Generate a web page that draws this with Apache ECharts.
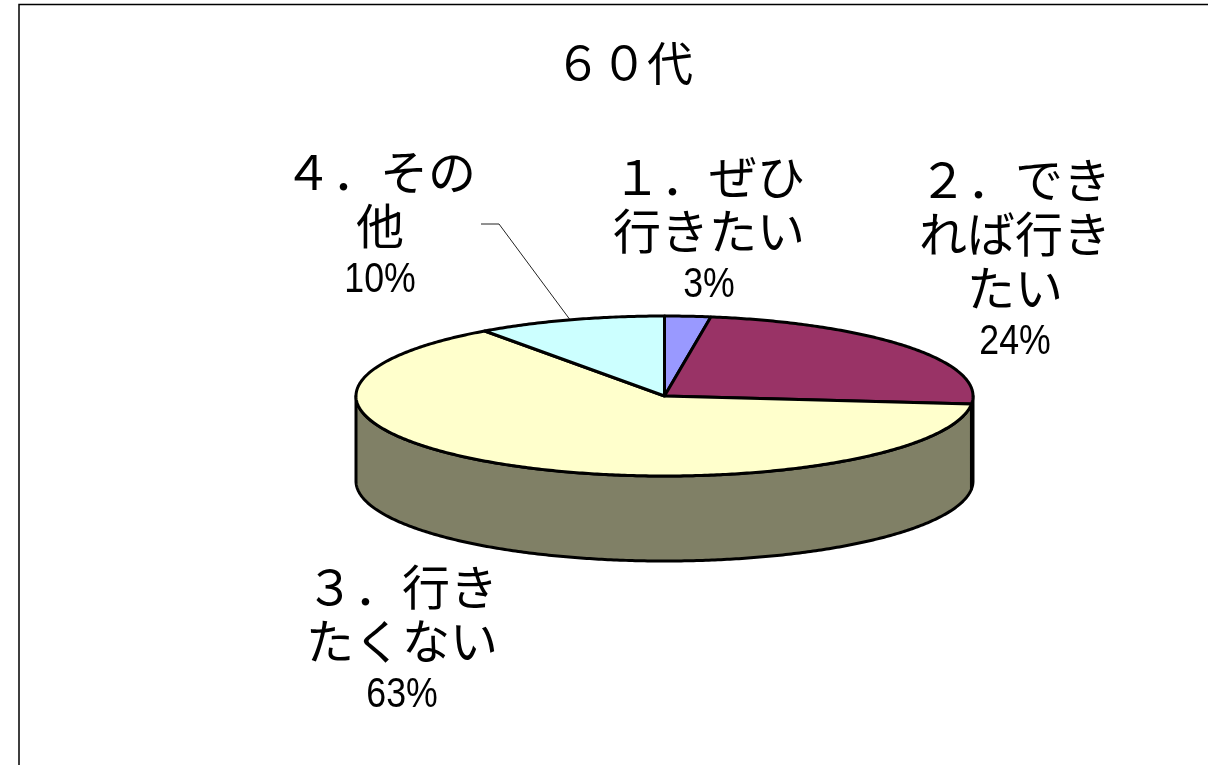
<!DOCTYPE html>
<html><head><meta charset="utf-8">
<style>html,body{margin:0;padding:0;background:#fff}#c{width:1208px;height:765px}</style>
<script src="https://cdn.jsdelivr.net/npm/echarts@6/dist/echarts.min.js"></script>
</head><body><div id="c"></div>
<script>
const chartTitle = '６０代';
const categories = ['１．ぜひ行きたい', '２．できれば行きたい', '３．行きたくない', '４．その他'];
const categoryLines = [['１．ぜひ', '行きたい'], ['２．でき', 'れば行き', 'たい'], ['３．行き', 'たくない'], ['４．その', '他']];
const values = [2.4, 24.2, 63.5, 9.9];
const percentLabels = ['3%', '24%', '63%', '10%'];
const topColors = ['#9999FF', '#993366', '#FFFFCC', '#CCFFFF'];
const wallColors = ['#4D4D80', '#4D1A33', '#808066', '#668080'];

const CX = 664.5, CY = 396, RX = 308.5, RY = 80, DEPTH = 85;
const JP = '"Noto Sans CJK JP"', LAT = '"Liberation Sans"';
const labelAnchors = [[709, 177], [1015, 180], [402, 587], [380, 172]];
const LINE_H = 54;

const total = values.reduce((a, b) => a + b, 0);
const ranges = [];
values.reduce((acc, v) => { const e = acc + v / total * 2 * Math.PI; ranges.push([acc, e]); return e; }, 0);
const pt = (t, dy) => [CX + RX * Math.sin(t), CY - RY * Math.cos(t) + (dy || 0)];
function arc(a, b, dy) {
  const n = Math.max(2, Math.ceil((b - a) / 0.01)), out = [];
  for (let i = 0; i <= n; i++) out.push(pt(a + (b - a) * i / n, dy));
  return out;
}
const edge = { stroke: '#000', lineWidth: 3, lineJoin: 'round' };

function renderWall(params) {
  const r = ranges[params.dataIndex];
  const a = Math.max(r[0], Math.PI / 2), b = Math.min(r[1], 3 * Math.PI / 2);
  if (b <= a) return { type: 'group', children: [] };
  return { type: 'polygon', shape: { points: arc(a, b, 0).concat(arc(a, b, DEPTH).reverse()) },
    style: Object.assign({ fill: wallColors[params.dataIndex] }, edge) };
}
function renderTop(params) {
  const r = ranges[params.dataIndex];
  return { type: 'polygon', shape: { points: [[CX, CY]].concat(arc(r[0], r[1], 0)) },
    style: Object.assign({ fill: topColors[params.dataIndex] }, edge) };
}
function renderLabel(params) {
  const i = params.dataIndex, a = labelAnchors[i], kids = [];
  categoryLines[i].forEach((s, k) => kids.push({ type: 'text', x: a[0], y: a[1] + k * LINE_H,
    style: { text: s, font: '48px ' + JP, fill: '#000', textAlign: 'center', textVerticalAlign: 'middle' } }));
  kids.push({ type: 'text', x: a[0], y: a[1] + categoryLines[i].length * LINE_H, scaleX: 0.83, originX: 0,
    style: { text: percentLabels[i], font: '43px ' + LAT, fill: '#000', textAlign: 'center', textVerticalAlign: 'middle' } });
  return { type: 'group', children: kids };
}
function renderLeader() {
  const r = ranges[3], e = pt((r[0] + r[1]) / 2, 0);
  return { type: 'polyline', shape: { points: [[481, 224], [499, 224], e] },
    style: { stroke: '#222', lineWidth: 1, fill: null } };
}
const rows = categories.map((c, i) => ({ name: c, value: values[i] }));
const chart = echarts.init(document.getElementById('c'), null, { renderer: 'canvas' });
chart.setOption({
  animation: false,
  backgroundColor: '#fff',
  title: { text: chartTitle, left: 619, top: 35, textAlign: 'center',
    textStyle: { fontFamily: JP, fontSize: 46, fontWeight: 'normal', color: '#000' } },
  graphic: [{ type: 'rect', shape: { x: 19, y: 4.5, width: 1400, height: 1000 }, style: { fill: null, stroke: '#000', lineWidth: 1.5 }, silent: true, z: -1 }],
  series: [
    { type: 'custom', coordinateSystem: 'none', data: rows, renderItem: renderWall, silent: true, z: 2 },
    { type: 'custom', coordinateSystem: 'none', data: rows, renderItem: renderTop, silent: true, z: 3 },
    { type: 'custom', coordinateSystem: 'none', data: [rows[3]], renderItem: renderLeader, silent: true, z: 1 },
    { type: 'custom', coordinateSystem: 'none', data: rows, renderItem: renderLabel, silent: true, z: 4 }
  ]
});
</script></body></html>
